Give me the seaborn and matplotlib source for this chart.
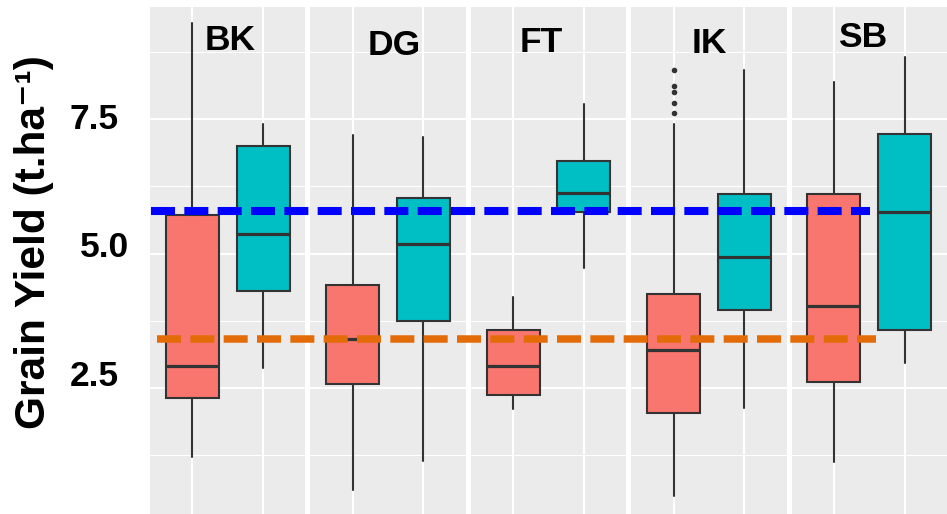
import matplotlib
matplotlib.use("Agg")
import matplotlib.pyplot as plt
import numpy as np
import pandas as pd
import seaborn as sns
from matplotlib.lines import Line2D
from matplotlib.transforms import ScaledTranslation

# ---- data -------------------------------------------------------------
sites = ["BK", "DG", "FT", "IK", "SB"]
series_names = ["A", "B"]

# series A (salmon boxes)
a_whislo = [1.21, 0.60, 2.10, 0.49, 1.11]
a_q1 = [2.31, 2.57, 2.37, 2.03, 2.61]
a_med = [2.90, 3.41, 2.90, 3.21, 4.02]
a_q3 = [5.71, 4.42, 3.57, 4.25, 6.10]
a_whishi = [9.30, 7.21, 4.20, 7.41, 8.20]
a_fliers = [[], [], [], [7.61, 7.81, 8.01, 8.11, 8.41], []]

# series B (teal boxes)
b_whislo = [2.87, 1.14, 4.74, 2.12, 2.97]
b_q1 = [4.30, 3.75, 5.78, 3.94, 3.57]
b_med = [5.37, 5.18, 6.13, 4.93, 5.78]
b_q3 = [7.01, 6.04, 6.72, 6.11, 7.22]
b_whishi = [7.41, 7.17, 7.79, 8.42, 8.66]
b_fliers = [[], [], [], [], []]

# reference yield levels (dashed lines)
ref_levels = [5.79, 3.41]

y_ticks = [2.5, 5.0, 7.5]
y_minor = [1.25, 3.75, 6.25, 8.75]
y_label = "Grain Yield (t.ha\u207b\u00b9)"

# ---- styling ----------------------------------------------------------
sns.set_theme(style="darkgrid", rc={
    "axes.facecolor": "#EBEBEB",
    "grid.color": "white",
    "figure.facecolor": "white",
    "lines.scale_dashes": False,
})
plt.rcParams["font.family"] = ["Liberation Sans", "DejaVu Sans"]

palette = dict(zip(series_names, sns.color_palette(["#F8766D", "#00BFC4"])))
EDGE = "#333333"

# ---- tidy table of box statistics ------------------------------------
rows = []
for i, site in enumerate(sites):
    for pos, (name, lo, q1, med, q3, hi, fl) in enumerate([
        ("A", a_whislo[i], a_q1[i], a_med[i], a_q3[i], a_whishi[i], a_fliers[i]),
        ("B", b_whislo[i], b_q1[i], b_med[i], b_q3[i], b_whishi[i], b_fliers[i]),
    ], start=1):
        rows.append(dict(site=site, series=name, pos=pos, whislo=lo, q1=q1,
                         med=med, q3=q3, whishi=hi, fliers=fl))
df = pd.DataFrame(rows)


def draw_boxes(data, **kws):
    ax = plt.gca()
    data = data.sort_values("pos")
    stats = [dict(whislo=r.whislo, q1=r.q1, med=r.med, q3=r.q3,
                  whishi=r.whishi, fliers=np.asarray(r.fliers, dtype=float))
             for r in data.itertuples()]
    art = ax.bxp(stats, positions=data["pos"].tolist(), widths=0.75,
                 patch_artist=True, showcaps=False, manage_ticks=False,
                 boxprops=dict(edgecolor=EDGE, linewidth=1.5),
                 medianprops=dict(color=EDGE, linewidth=2.3),
                 whiskerprops=dict(color=EDGE, linewidth=1.5),
                 flierprops=dict(marker="o", markersize=3.0,
                                 markerfacecolor=EDGE, markeredgecolor=EDGE))
    for patch, name in zip(art["boxes"], data["series"]):
        patch.set_facecolor(palette[name])


g = sns.FacetGrid(df, col="site", col_order=sites, sharey=True, sharex=True,
                  despine=False, height=5.14, aspect=9.47 / 5 / 5.14)
g.map_dataframe(draw_boxes)
g.set_titles(template="")
fig = g.figure
fig.set_size_inches(9.47, 5.14)
fig.subplots_adjust(left=150 / 947, right=1.0, bottom=0.5 / 514,
                    top=1 - 7 / 514, wspace=0.032)

# site name placement inside each panel (data coords)
label_x = [1.53, 1.59, 1.40, 1.51, 1.41]
label_y = [8.79, 8.70, 8.76, 8.73, 8.85]

axes = g.axes.flat
for ax, site, lx, ly in zip(axes, sites, label_x, label_y):
    ax.set_xlim(0.4, 2.6)
    ax.set_ylim(0.16, 9.59)
    ax.set_xticks([1, 2])
    ax.set_xticklabels([])
    ax.set_yticks(y_ticks)
    ax.set_yticks(y_minor, minor=True)
    ax.grid(which="major", color="white", linewidth=1.5)
    ax.grid(which="minor", axis="y", color="white", linewidth=0.75)
    ax.tick_params(axis="both", which="both", length=0)
    ax.set_xlabel("")
    ax.set_ylabel("")
    for sp in ax.spines.values():
        sp.set_visible(False)
    ax.text(lx, ly, site, ha="center", va="baseline", fontsize=25.5,
            fontweight="bold", color="black")

ax0 = g.axes.flat[0]
ax0.tick_params(axis="y", pad=18, labelsize=25.5, labelcolor="black")
ax0.set_yticklabels([f"{t:.1f}" for t in y_ticks], fontweight="bold")
ax0.set_ylabel(y_label, fontsize=30.5, fontweight="bold", color="black", va="center")
ax0.yaxis.set_label_coords(-0.745, 0.535)

# small per-label nudges of the tick text (points)
nudges = [(-4.3, 10.6), (2.9, 6.8), (-4.3, 2.2)]
for lbl, (dx, dy) in zip(ax0.get_yticklabels(), nudges):
    lbl.set_transform(lbl.get_transform() +
                      ScaledTranslation(dx / 72, dy / 72, fig.dpi_scale_trans))

# dashed reference lines spanning across the panels
first_ax, last_ax = g.axes.flat[0], g.axes.flat[-1]
line_specs = [
    (ref_levels[0], 0.414, 1.514, "#0000FF", 5.8),
    (ref_levels[1], 0.495, 1.599, "#E36C09", 5.4),
]
to_fig = fig.transFigure.inverted()
for level, x0, x1, col, lw in line_specs:
    p0 = to_fig.transform(first_ax.transData.transform((x0, level)))
    p1 = to_fig.transform(last_ax.transData.transform((x1, level)))
    ln = Line2D([p0[0], p1[0]], [p0[1], p1[1]], transform=fig.transFigure,
                color=col, linewidth=lw, solid_capstyle="butt",
                dash_capstyle="butt", zorder=10)
    ln.set_dashes((17.3, 6.7))
    fig.add_artist(ln)

fig.savefig("out.png", dpi=100)
